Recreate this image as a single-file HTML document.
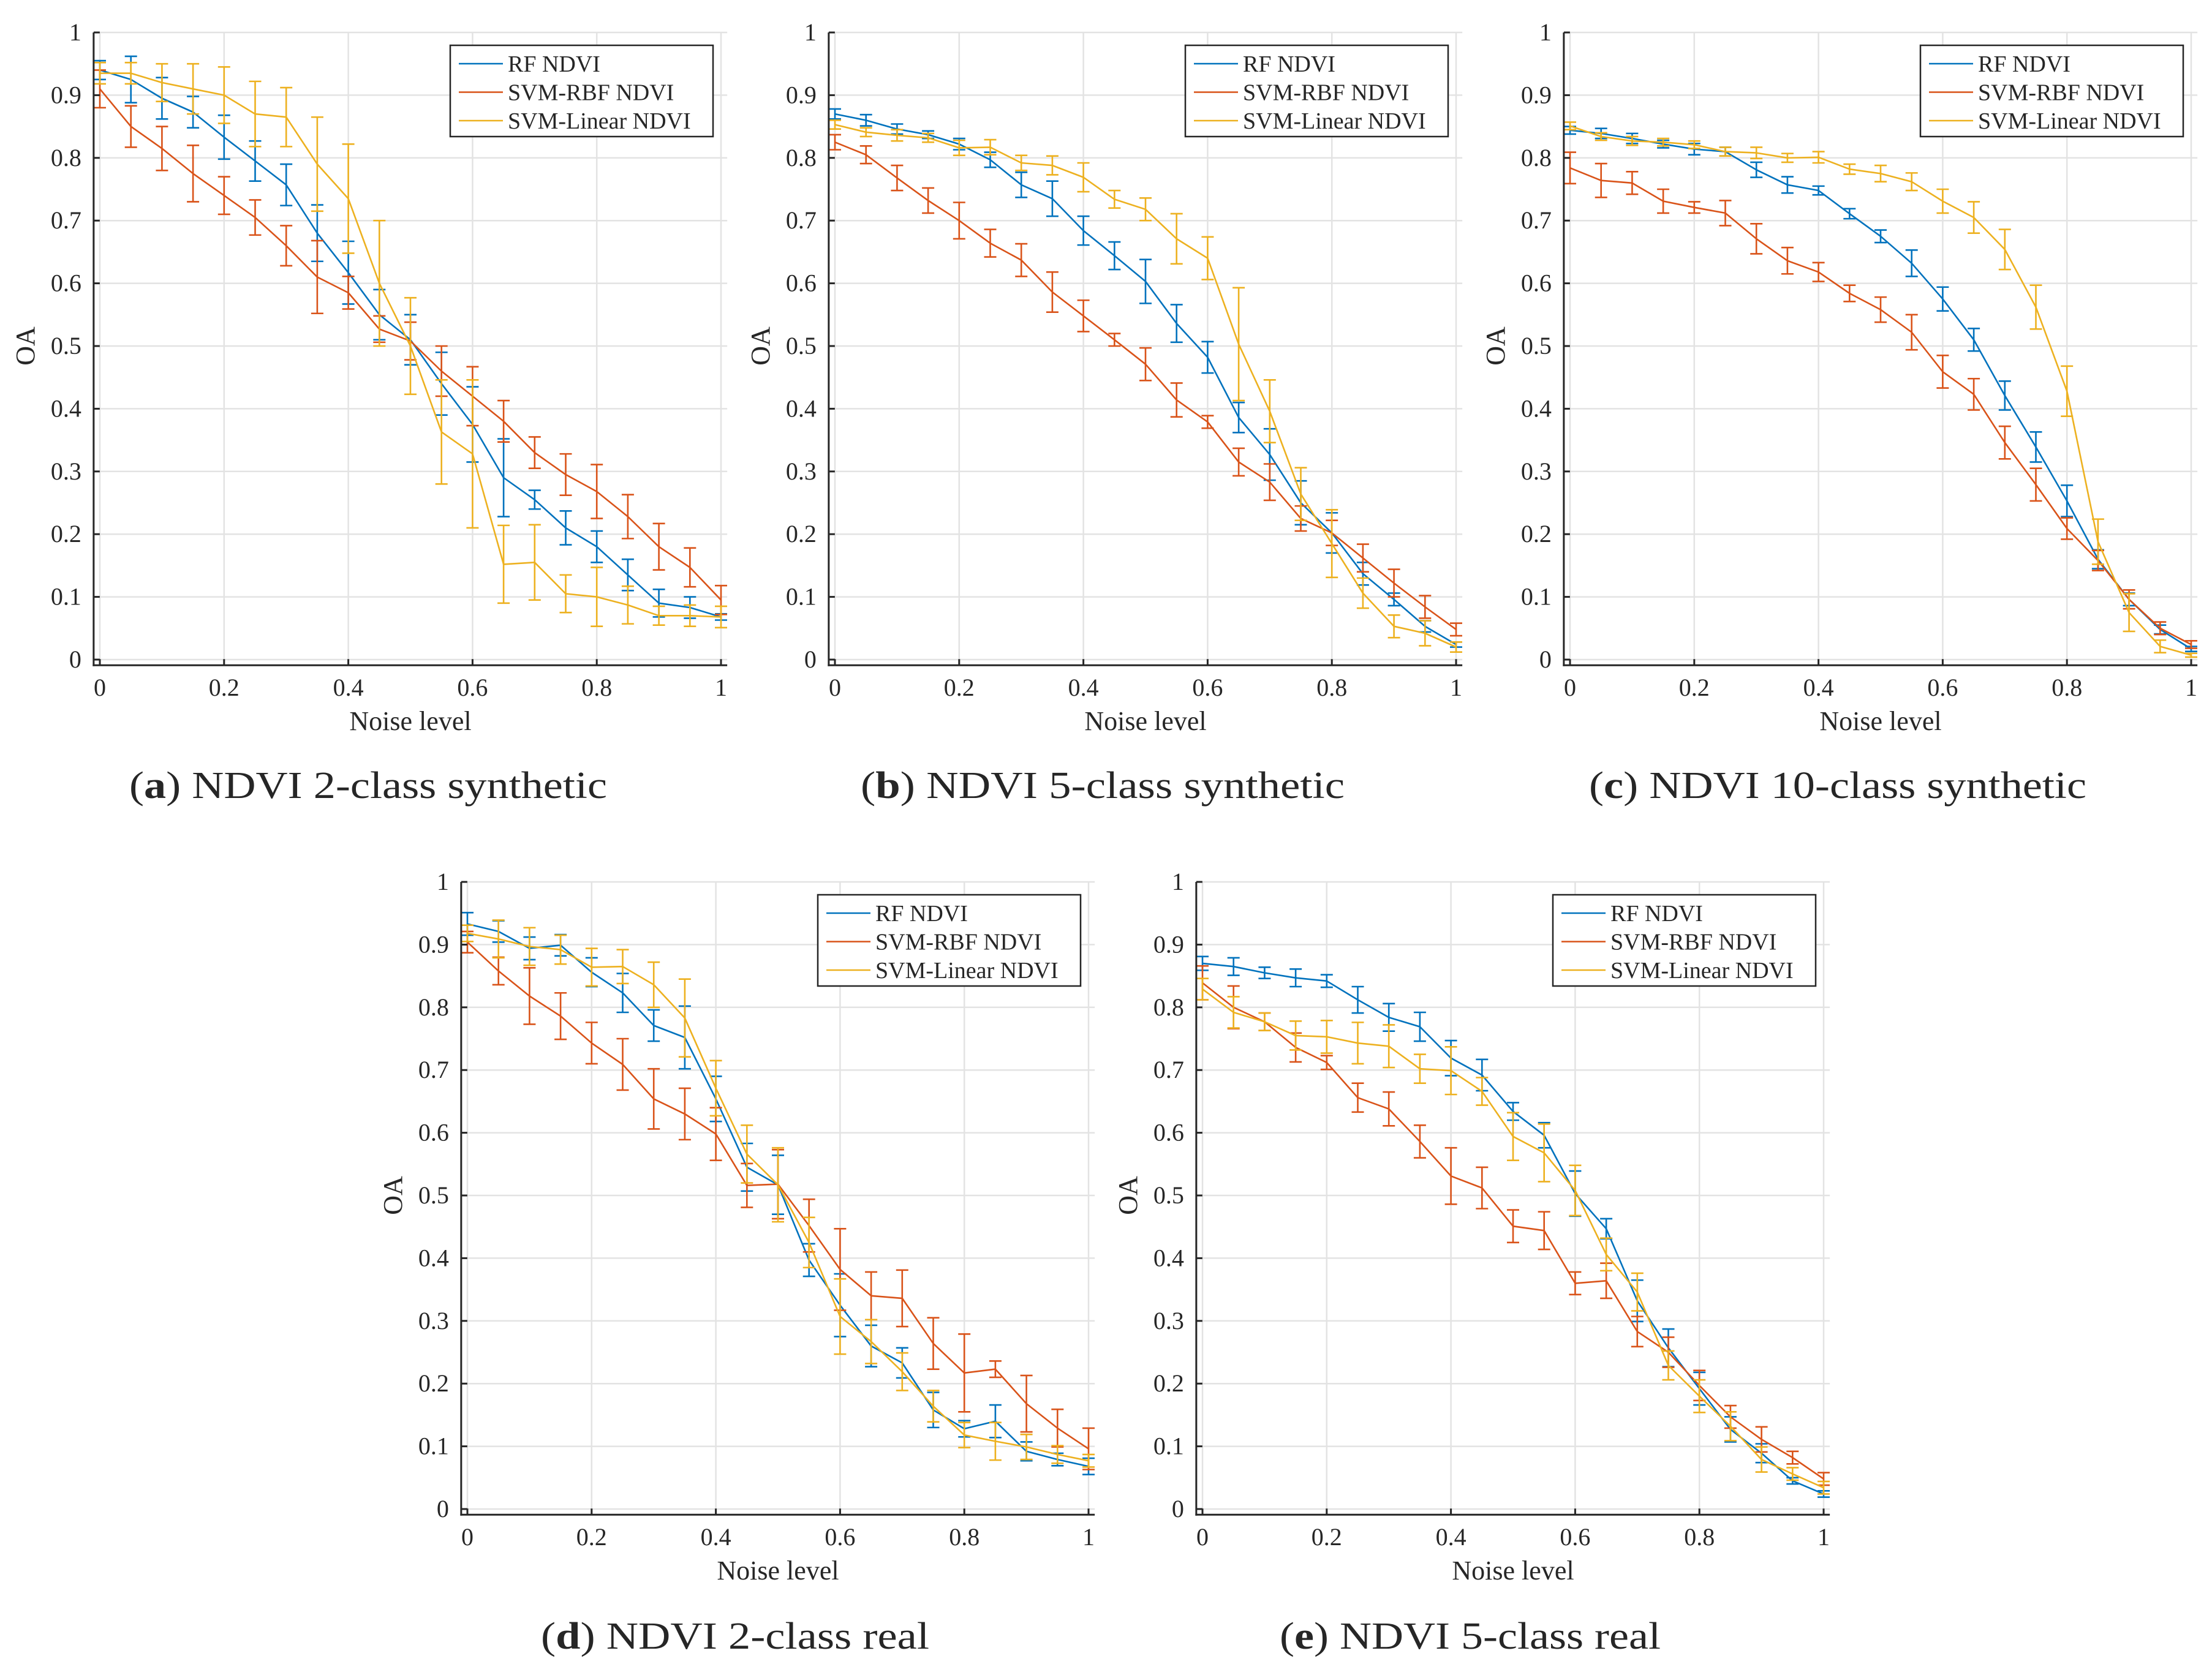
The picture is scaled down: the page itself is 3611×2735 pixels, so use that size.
<!DOCTYPE html>
<html>
<head>
<meta charset="utf-8">
<style>
html,body{margin:0;padding:0;background:#fff;}
svg{display:block;}
text{font-family:"Liberation Serif","DejaVu Serif",serif;fill:#262626;}
</style>
</head>
<body>
<svg id="fig" width="3611" height="2735" viewBox="0 0 3611 2735" xmlns="http://www.w3.org/2000/svg"></svg>
<script>
// ---- Data ----
const noiseLevels = [0,0.05,0.1,0.15,0.2,0.25,0.3,0.35,0.4,0.45,0.5,0.55,0.6,0.65,0.7,0.75,0.8,0.85,0.9,0.95,1];
const seriesNames = ["RF NDVI","SVM-RBF NDVI","SVM-Linear NDVI"];
const xTicks = [0,0.2,0.4,0.6,0.8,1];
const xTickLabels = ["0","0.2","0.4","0.6","0.8","1"];
const yTicks = [0,0.1,0.2,0.3,0.4,0.5,0.6,0.7,0.8,0.9,1];
const yTickLabels = ["0","0.1","0.2","0.3","0.4","0.5","0.6","0.7","0.8","0.9","1"];

// (a) NDVI 2-class synthetic
const aRF = [0.94,0.925,0.895,0.873,0.833,0.795,0.757,0.68,0.617,0.55,0.51,0.44,0.375,0.29,0.255,0.21,0.18,0.135,0.09,0.083,0.068];
const aRFerr = [0.015,0.037,0.033,0.025,0.035,0.032,0.033,0.045,0.05,0.04,0.04,0.05,0.06,0.062,0.015,0.027,0.025,0.025,0.022,0.017,0.005];
const aRBF = [0.91,0.85,0.815,0.775,0.74,0.705,0.66,0.61,0.585,0.527,0.508,0.46,0.42,0.38,0.33,0.295,0.268,0.228,0.18,0.147,0.095];
const aRBFerr = [0.03,0.033,0.035,0.045,0.03,0.028,0.032,0.058,0.026,0.021,0.03,0.04,0.047,0.033,0.025,0.033,0.043,0.035,0.037,0.031,0.023];
const aLin = [0.935,0.935,0.92,0.91,0.9,0.87,0.865,0.79,0.735,0.6,0.5,0.363,0.328,0.152,0.155,0.105,0.1,0.087,0.07,0.07,0.068];
const aLinerr = [0.017,0.017,0.03,0.04,0.045,0.052,0.047,0.075,0.087,0.1,0.077,0.083,0.118,0.062,0.06,0.03,0.047,0.03,0.015,0.017,0.017];

// (b) NDVI 5-class synthetic
const bRF = [0.87,0.86,0.846,0.837,0.822,0.797,0.757,0.735,0.684,0.644,0.603,0.536,0.482,0.386,0.327,0.25,0.202,0.137,0.096,0.053,0.024];
const bRFerr = [0.008,0.009,0.008,0.006,0.009,0.012,0.02,0.028,0.023,0.022,0.035,0.03,0.025,0.024,0.041,0.035,0.032,0.018,0.01,0.009,0.004];
const bRBF = [0.825,0.805,0.768,0.732,0.7,0.664,0.637,0.586,0.548,0.51,0.471,0.414,0.379,0.315,0.283,0.225,0.202,0.162,0.122,0.084,0.048];
const bRBFerr = [0.012,0.014,0.02,0.02,0.029,0.022,0.026,0.032,0.025,0.01,0.026,0.027,0.01,0.022,0.029,0.02,0.02,0.022,0.022,0.018,0.01];
const bLin = [0.853,0.841,0.836,0.832,0.816,0.817,0.792,0.788,0.769,0.734,0.718,0.671,0.64,0.503,0.396,0.264,0.185,0.106,0.053,0.042,0.02];
const bLinerr = [0.007,0.007,0.009,0.007,0.012,0.012,0.012,0.015,0.023,0.014,0.018,0.04,0.034,0.09,0.05,0.042,0.054,0.024,0.018,0.02,0.008];

// (c) NDVI 10-class synthetic
const cRF = [0.844,0.839,0.831,0.822,0.814,0.81,0.781,0.757,0.748,0.711,0.675,0.632,0.575,0.51,0.421,0.339,0.253,0.16,0.096,0.048,0.017];
const cRFerr = [0.006,0.008,0.008,0.006,0.009,0.007,0.012,0.013,0.007,0.008,0.01,0.021,0.019,0.018,0.023,0.024,0.025,0.015,0.01,0.007,0.004];
const cRBF = [0.784,0.764,0.76,0.731,0.721,0.712,0.671,0.636,0.618,0.584,0.558,0.522,0.459,0.423,0.346,0.279,0.209,0.158,0.096,0.05,0.024];
const cRBFerr = [0.025,0.027,0.018,0.019,0.009,0.02,0.024,0.021,0.015,0.013,0.02,0.028,0.026,0.025,0.026,0.026,0.017,0.016,0.015,0.01,0.006];
const cLin = [0.851,0.834,0.827,0.825,0.821,0.81,0.808,0.8,0.801,0.782,0.775,0.762,0.731,0.705,0.654,0.562,0.428,0.188,0.075,0.021,0.007];
const cLinerr = [0.006,0.006,0.007,0.006,0.006,0.007,0.009,0.007,0.009,0.008,0.013,0.014,0.019,0.025,0.032,0.035,0.04,0.036,0.03,0.01,0.003];

// (d) NDVI 2-class real
const dRF = [0.933,0.921,0.894,0.899,0.856,0.823,0.771,0.752,0.654,0.545,0.517,0.397,0.325,0.26,0.233,0.158,0.128,0.14,0.092,0.079,0.068];
const dRFerr = [0.018,0.017,0.018,0.017,0.023,0.031,0.025,0.05,0.036,0.038,0.047,0.026,0.05,0.033,0.024,0.028,0.013,0.026,0.015,0.01,0.013];
const dRBF = [0.904,0.858,0.818,0.786,0.743,0.709,0.654,0.63,0.598,0.516,0.518,0.452,0.382,0.34,0.336,0.264,0.217,0.223,0.168,0.129,0.096];
const dRBFerr = [0.017,0.022,0.045,0.037,0.033,0.041,0.048,0.041,0.042,0.035,0.055,0.042,0.065,0.038,0.045,0.041,0.062,0.013,0.045,0.03,0.033];
const dLin = [0.918,0.909,0.897,0.892,0.864,0.865,0.836,0.783,0.671,0.566,0.517,0.425,0.307,0.267,0.219,0.164,0.118,0.108,0.099,0.087,0.077];
const dLinerr = [0.013,0.03,0.03,0.023,0.03,0.027,0.036,0.062,0.044,0.046,0.059,0.04,0.06,0.035,0.03,0.025,0.02,0.03,0.02,0.014,0.01];

// (e) NDVI 5-class real
const eRF = [0.87,0.865,0.855,0.847,0.842,0.812,0.784,0.769,0.719,0.692,0.634,0.596,0.503,0.447,0.332,0.257,0.192,0.127,0.089,0.045,0.024];
const eRFerr = [0.011,0.014,0.009,0.014,0.01,0.021,0.022,0.023,0.028,0.025,0.014,0.02,0.036,0.016,0.033,0.03,0.026,0.02,0.015,0.005,0.005];
const eRBF = [0.839,0.8,0.777,0.736,0.712,0.656,0.638,0.586,0.531,0.512,0.451,0.444,0.36,0.364,0.283,0.25,0.197,0.147,0.111,0.082,0.048];
const eRBFerr = [0.027,0.034,0.014,0.023,0.011,0.023,0.027,0.026,0.045,0.033,0.026,0.03,0.018,0.028,0.024,0.024,0.024,0.018,0.02,0.01,0.01];
const eLin = [0.829,0.792,0.777,0.755,0.753,0.743,0.738,0.702,0.699,0.666,0.594,0.568,0.508,0.406,0.346,0.229,0.18,0.132,0.079,0.056,0.034];
const eLinerr = [0.017,0.025,0.014,0.023,0.026,0.033,0.034,0.023,0.038,0.022,0.038,0.046,0.04,0.026,0.03,0.023,0.026,0.023,0.02,0.01,0.01];

const colors = ["#0072BD","#D95319","#EDB120"];

const panels = [
  {id:"a", letter:"a", title:" NDVI 2-class synthetic", ox:0, oy:0, capX:601, capY:1303, capW:780, series:[[aRF,aRFerr],[aRBF,aRBFerr],[aLin,aLinerr]]},
  {id:"b", letter:"b", title:" NDVI 5-class synthetic", ox:1200, oy:0, capX:1800, capY:1303, capW:790, series:[[bRF,bRFerr],[bRBF,bRBFerr],[bLin,bLinerr]]},
  {id:"c", letter:"c", title:" NDVI 10-class synthetic", ox:2400, oy:0, capX:3000, capY:1303, capW:812, series:[[cRF,cRFerr],[cRBF,cRBFerr],[cLin,cLinerr]]},
  {id:"d", letter:"d", title:" NDVI 2-class real", ox:600, oy:1387, capX:1200, capY:2692, capW:634, series:[[dRF,dRFerr],[dRBF,dRBFerr],[dLin,dLinerr]]},
  {id:"e", letter:"e", title:" NDVI 5-class real", ox:1800, oy:1387, capX:2400, capY:2692, capW:622, series:[[eRF,eRFerr],[eRBF,eRBFerr],[eLin,eLinerr]]}
];

const NS = "http://www.w3.org/2000/svg";
const svg = document.getElementById("fig");
function mk(tag, attrs, parent){
  const el = document.createElementNS(NS, tag);
  for (const k in attrs) el.setAttribute(k, attrs[k]);
  (parent||svg).appendChild(el);
  return el;
}

panels.forEach(p => {
  const X0 = 163 + p.ox, UX = 1014;
  const YT = 53 + p.oy, UY = 1024;
  const sx = v => X0 + v*UX;
  const sy = v => YT + (1 - v)*UY;
  const xmin = -0.01, xmax = 1.01, ymin = -0.009, ymax = 1;

  const g = mk("g", {});
  
  

  // grid
  const grid = mk("g", {stroke:"#e3e3e3", "stroke-width":"2.5"}, g);
  
  
  xTicks.forEach(t => mk("line",{x1:sx(t),x2:sx(t),y1:sy(ymin),y2:sy(ymax)},grid));
  yTicks.forEach(t => mk("line",{x1:sx(xmin),x2:sx(xmax),y1:sy(t),y2:sy(t)},grid));

  // series
  p.series.forEach((s, si) => {
    const vals = s[0], errs = s[1];
    const sg = mk("g", {stroke:colors[si], "stroke-width":"2.6", fill:"none"}, g);
    
    
    noiseLevels.forEach((x, i) => {
      const xc = sx(x), yh = sy(vals[i]+errs[i]), yl = sy(vals[i]-errs[i]);
      const eb = mk("path", {d:`M${xc},${yh}V${yl}M${xc-10},${yh}H${xc+10}M${xc-10},${yl}H${xc+10}`}, sg);
      
      
    });
    const d = noiseLevels.map((x,i)=>(i?"L":"M")+sx(x).toFixed(1)+","+sy(vals[i]).toFixed(1)).join("");
    const ln = mk("path", {d:d, "stroke-linejoin":"round"}, sg);
    
    
  });

  // axes
  const ax = mk("g", {stroke:"#262626", "stroke-width":"3", fill:"none"}, g);
  
  
  mk("line",{x1:sx(xmin),x2:sx(xmin),y1:sy(ymax),y2:sy(ymin)+1.5},ax);
  mk("line",{x1:sx(xmin)-1.5,x2:sx(xmax),y1:sy(ymin),y2:sy(ymin)},ax);
  xTicks.forEach(t => mk("line",{x1:sx(t),x2:sx(t),y1:sy(ymin),y2:sy(ymin)-10},ax));
  yTicks.forEach(t => mk("line",{x1:sx(xmin),x2:sx(xmin)+10,y1:sy(t),y2:sy(t)},ax));

  xTicks.forEach((t,i) => {
    const tx = mk("text",{x:sx(t), y:sy(ymin)+50, "font-size":"40", "text-anchor":"middle"}, g);
    tx.textContent = xTickLabels[i];
    
    
  });
  yTicks.forEach((t,i) => {
    const tx = mk("text",{x:sx(xmin)-20, y:sy(t)+13, "font-size":"40", "text-anchor":"end"}, g);
    tx.textContent = yTickLabels[i];
    
    
  });
  const xl = mk("text",{x:sx(0.5), y:sy(ymin)+106, "font-size":"44", "text-anchor":"middle"}, g);
  xl.textContent = "Noise level";
  
  
  const yl = mk("text",{x:0, y:0, "font-size":"44", "text-anchor":"middle", transform:`translate(${p.ox+56},${sy(0.5)}) rotate(-90)`}, g);
  yl.textContent = "OA";
  
  

  // legend
  const lx = X0 + 572, ly = YT + 21;
  const lg = mk("g", {}, g);
  
  
  mk("rect",{x:lx, y:ly, width:429, height:149, fill:"#fff", stroke:"#262626", "stroke-width":"2.5"}, lg);
  seriesNames.forEach((n, si) => {
    const cy = ly + 30 + si*46.5;
    const e = mk("g", {}, lg);
    
    
    mk("line",{x1:lx+14, x2:lx+86, y1:cy, y2:cy, stroke:colors[si], "stroke-width":"2.6"}, e);
    const t = mk("text",{x:lx+94, y:cy+13, "font-size":"38"}, e);
    t.textContent = n;
  });

  // caption
  const cap = mk("text",{x:p.capX, y:p.capY, "font-size":"62", "text-anchor":"middle", textLength:p.capW, lengthAdjust:"spacingAndGlyphs"}, g);
  
  
  const t1 = document.createElementNS(NS,"tspan"); t1.textContent = "("; cap.appendChild(t1);
  const t2 = document.createElementNS(NS,"tspan"); t2.setAttribute("font-weight","bold"); t2.textContent = p.letter; cap.appendChild(t2);
  const t3 = document.createElementNS(NS,"tspan"); t3.textContent = ")" + p.title; cap.appendChild(t3);
});
</script>
</body>
</html>
